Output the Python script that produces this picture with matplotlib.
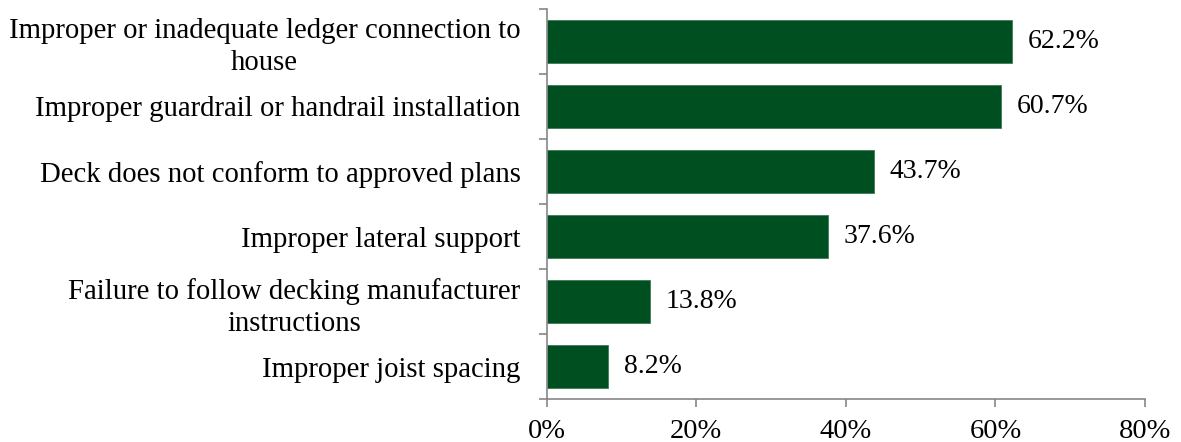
import numpy as np
import matplotlib.pyplot as plt
from matplotlib.ticker import FixedLocator, PercentFormatter

# deck inspection failures, share of respondents
issues = [
    "Improper or inadequate ledger connection to\nhouse",
    "Improper guardrail or handrail installation",
    "Deck does not conform to approved plans",
    "Improper lateral support",
    "Failure to follow decking manufacturer\ninstructions",
    "Improper joist spacing",
]
shares = [62.2, 60.7, 43.7, 37.6, 13.8, 8.2]
xticks = [0, 20, 40, 60, 80]

bar_color = "#004f20"
axis_color = "#868686"
label_font = "Liberation Serif"
num_font = "Liberation Serif"

fig = plt.figure(figsize=(11.81, 4.42), dpi=100)
ax = fig.add_axes([0.463, 0.097, 0.5065, 0.883])

y = np.arange(len(issues))[::-1]
ax.barh(y, shares, height=0.67, color=bar_color, edgecolor="#3f7a55", linewidth=0.6)

ax.set_xlim(0, 80)
ax.set_ylim(-0.5, len(issues) - 0.5)

for yy, v in zip(y, shares):
    ax.text(v + 2.1, yy, f"{v:.1f}%", va="center", ha="left",
            fontsize=20, family=num_font)

# category labels at bar centres, tick marks on the boundaries
ax.set_yticks(y)
ax.set_yticklabels(issues, fontsize=20.7, family=label_font, linespacing=1.3)
for lbl in ax.get_yticklabels():
    lbl.set_multialignment("center")
ax.yaxis.set_minor_locator(FixedLocator(np.arange(-0.5, len(issues), 1.0)))
ax.tick_params(axis="y", which="major", length=0, pad=19)
ax.tick_params(axis="y", which="minor", length=6, color=axis_color, width=1.2)

ax.set_xticks(xticks)
ax.xaxis.set_major_formatter(PercentFormatter(decimals=0))
ax.tick_params(axis="x", length=6, color=axis_color, width=1.2, pad=8, labelsize=20.5)
for lbl in ax.get_xticklabels():
    lbl.set_family(num_font)

for side in ["top", "right"]:
    ax.spines[side].set_visible(False)
for side in ["left", "bottom"]:
    ax.spines[side].set_color(axis_color)
    ax.spines[side].set_linewidth(1.2)

fig.savefig("out.png", dpi=100)
